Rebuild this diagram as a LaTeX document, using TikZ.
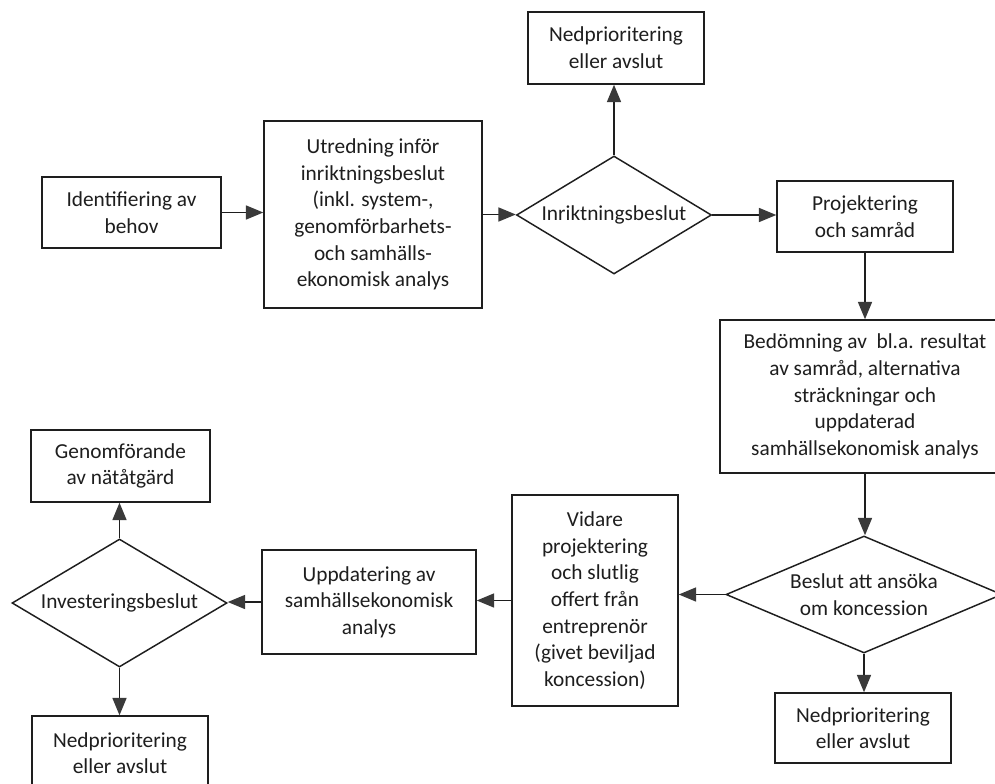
\documentclass[tikz,border=0pt]{standalone}
\usepackage{fontspec}
\setmainfont{Carlito}
\usetikzlibrary{shapes.geometric,arrows.meta}
\definecolor{ln}{HTML}{1E1E1E}
\definecolor{ah}{HTML}{3A3A3A}
\newcommand{\pxl}[1]{#1*0.75pt}
\tikzset{
  box/.style={draw=ln, line width=1.1pt, rectangle, inner sep=0pt, align=center,
    font=\fontsize{16}{20}\selectfont, text=ln},
  dec/.style={draw=ln, line width=1.1pt, diamond, inner sep=0pt, align=center,
    font=\fontsize{16}{20}\selectfont, text=ln},
  conn/.style={draw=ln, line width=1.1pt,
    -{Triangle[length=13pt,width=10.5pt,fill=ah,color=ah]}}
}
\begin{document}
\begin{tikzpicture}[x=0.75pt,y=-0.75pt]
\useasboundingbox (0,0) rectangle (995,784);
\fill[white] (0,0) rectangle (995,784);

\node[box, minimum width=\pxl{179}, minimum height=\pxl{71}] (b1) at (131.5,212.5) {Identifiering av\\behov};
\node[box, minimum width=\pxl{218}, minimum height=\pxl{187}] (b2) at (373,214.5) {Utredning inför\\inriktningsbeslut\\(inkl. system-,\\genomförbarhets-\\och samhälls-\\ekonomisk analys};
\node[dec, shape aspect=1.65, minimum width=\pxl{195}, minimum height=\pxl{118}] (d1) at (614,215) {Inriktningsbeslut};
\node[box, minimum width=\pxl{176}, minimum height=\pxl{72}] (top) at (616,48) {Nedprioritering\\eller avslut};
\node[box, minimum width=\pxl{176}, minimum height=\pxl{71}] (proj) at (865,216.5) {Projektering\\och samråd};
\node[box, minimum width=\pxl{290}, minimum height=\pxl{153}] (bed) at (865,396.5) {Bedömning av\ \ bl.a. resultat\\av samråd, alternativa\\sträckningar och\\uppdaterad\\samhällsekonomisk analys};
\node[dec, shape aspect=2.36, minimum width=\pxl{276}, minimum height=\pxl{117}] (d2) at (864,594.5) {Beslut att ansöka\\om koncession};
\node[box, minimum width=\pxl{176}, minimum height=\pxl{70}] (nr) at (863,728) {Nedprioritering\\eller avslut};
\node[box, minimum width=\pxl{166}, minimum height=\pxl{211}] (vid) at (595,600.5) {Vidare\\projektering\\och slutlig\\offert från\\entreprenör\\(givet beviljad\\koncession)};
\node[box, minimum width=\pxl{214}, minimum height=\pxl{104}] (upp) at (369,602) {Uppdatering av\\samhällsekonomisk\\analys};
\node[dec, shape aspect=1.68, minimum width=\pxl{215}, minimum height=\pxl{128}] (d3) at (119.5,603) {Investeringsbeslut};
\node[box, minimum width=\pxl{179}, minimum height=\pxl{72}] (gen) at (120.5,466) {Genomförande\\av nätåtgärd};
\node[box, minimum width=\pxl{176}, minimum height=\pxl{74}] (nl) at (120,753) {Nedprioritering\\eller avslut};

\draw[conn] (b1.east) -- (b1.east -| b2.west);
\draw[conn] (b2.east) -- (b2.east -| d1.west);
\draw[conn] (d1.north) -- (d1.north |- top.south);
\draw[conn] (d1.east) -- (d1.east -| proj.west);
\draw[conn] (proj.south) -- (proj.south |- bed.north);
\draw[conn] (bed.south) -- (bed.south |- d2.north);
\draw[conn] (d2.south) -- (d2.south |- nr.north);
\draw[conn] (d2.west) -- (d2.west -| vid.east);
\draw[conn] (vid.west) -- (vid.west -| upp.east);
\draw[conn] (upp.west) -- (upp.west -| d3.east);
\draw[conn] (d3.north) -- (d3.north |- gen.south);
\draw[conn] (d3.south) -- (d3.south |- nl.north);
\end{tikzpicture}
\end{document}
